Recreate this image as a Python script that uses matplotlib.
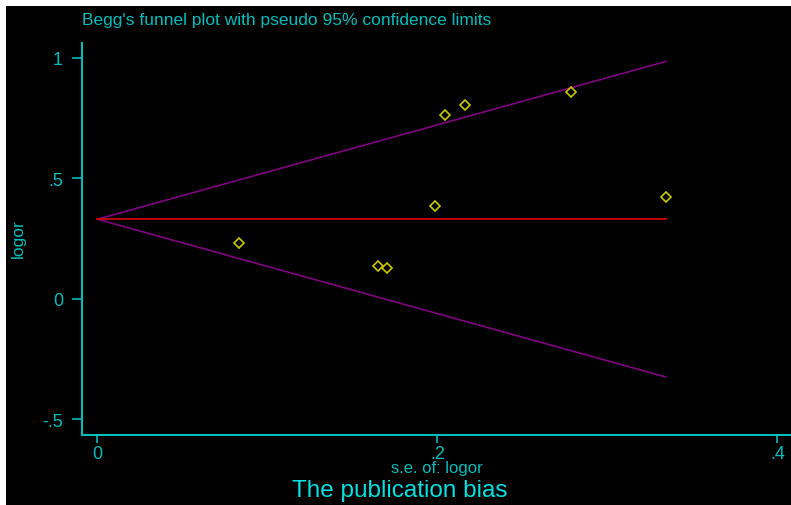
import numpy as np
import matplotlib
matplotlib.use('Agg')
from matplotlib import pyplot as plt
from matplotlib.patches import Rectangle

# standard errors and log odds ratios of the studies
se = [0.0833, 0.1653, 0.1706, 0.1986, 0.2045, 0.2165, 0.2783, 0.3344]
logor = [0.230, 0.137, 0.129, 0.384, 0.763, 0.805, 0.859, 0.423]
pooled = 0.330

xticks = [0, 0.2, 0.4]
xticklabels = ['0', '.2', '.4']
yticks = [-0.5, 0, 0.5, 1]
yticklabels = ['-.5', '0', '.5', '1']

cyan = '#00bcbc'
plt.rcParams['font.family'] = ['Liberation Sans', 'DejaVu Sans']

W, H = 791, 506
px = 72 / 100  # one pixel in points at dpi 100
fig = plt.figure(figsize=(W / 100, H / 100), dpi=100)
fig.patch.set_facecolor('white')
# black canvas, leaving a thin white margin on top and left
fig.patches.append(Rectangle((6 / W, 0), 1, 1 - 7 / H, transform=fig.transFigure,
                             facecolor='black', edgecolor='none', zorder=-1))

ax = fig.add_axes([82 / W, (H - 435.7) / H, (W - 82) / W, (435.7 - 44) / H])
ax.set_facecolor('black')
ax.set_xlim(-0.00906, 0.408)
ax.set_ylim(-0.565, 1.062)

for s in ['top', 'right']:
    ax.spines[s].set_visible(False)
for s in ['left', 'bottom']:
    ax.spines[s].set_color(cyan)
    ax.spines[s].set_linewidth(1.5)

# pseudo 95% confidence limits
smax = max(se)
s = np.array([0, smax])
ax.plot(s, pooled + 1.96 * s, color='#800080', lw=1.2)
ax.plot(s, pooled - 1.96 * s, color='#800080', lw=1.2)
ax.plot(s, [pooled, pooled], color='#d00000', lw=1.3)

ax.plot(se, logor, linestyle='none', marker='D', markersize=5,
        markerfacecolor='none', markeredgecolor='#c8c800', markeredgewidth=1.2)

ax.set_xticks(xticks)
ax.set_xticklabels(xticklabels)
ax.set_yticks(yticks)
ax.set_yticklabels(yticklabels)
ax.tick_params(axis='x', colors=cyan, length=8 * px, width=1.2, labelsize=13, pad=1.5)
ax.tick_params(axis='y', colors=cyan, length=10 * px, width=1.2, labelsize=13, pad=9 * px)

fig.text(18.5 / W, 1 - 239 / H, 'logor', color=cyan, fontsize=12.5, rotation=90,
         ha='center', va='center')
fig.text(437 / W, 1 - 469 / H, 's.e. of: logor', color=cyan, fontsize=12,
         ha='center', va='center')
fig.text(400 / W, 1 - 491 / H, 'The publication bias', color='#00e0e0', fontsize=17.5,
         ha='center', va='center')
fig.text(82 / W, 1 - 21 / H, "Begg's funnel plot with pseudo 95% confidence limits",
         color=cyan, fontsize=12.5, ha='left', va='center')

fig.savefig('out.png', dpi=100, facecolor=fig.get_facecolor())
